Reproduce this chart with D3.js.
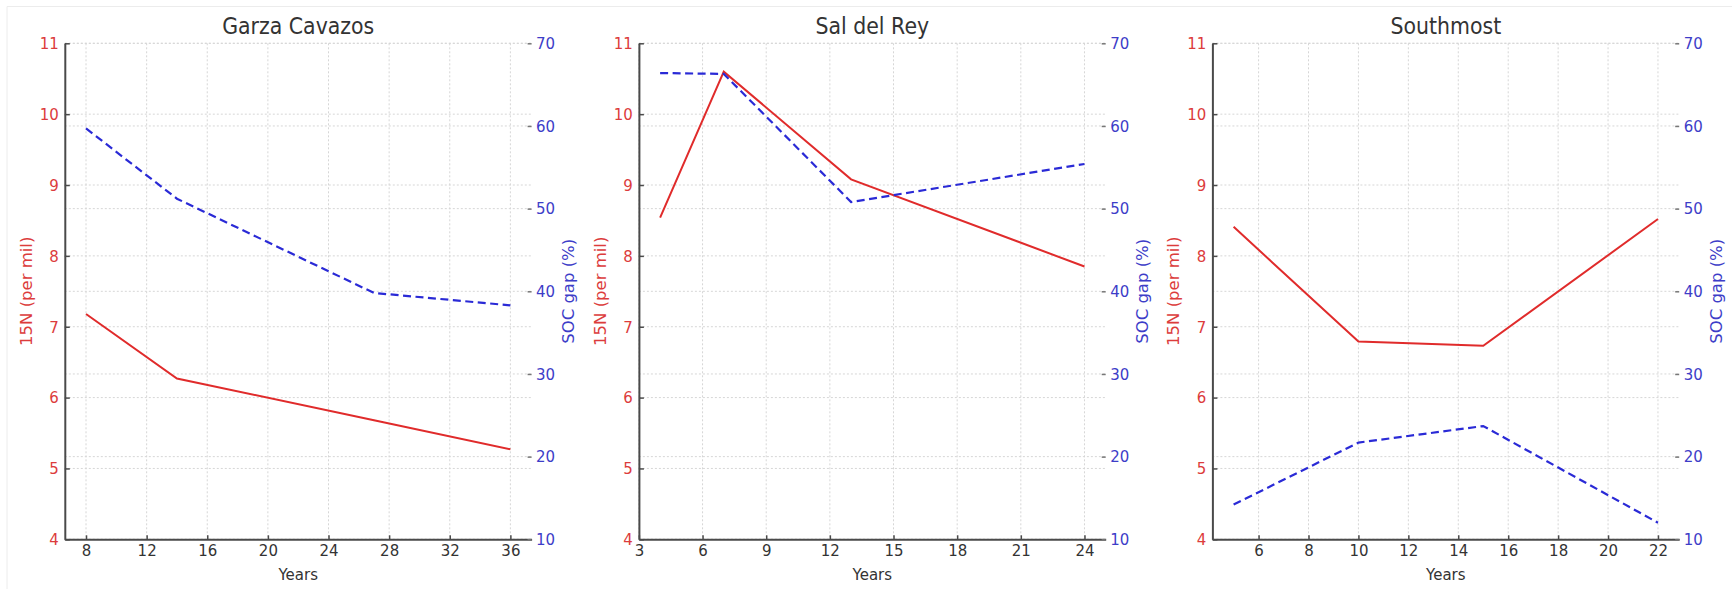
<!DOCTYPE html>
<html>
<head>
<meta charset="utf-8">
<script src="https://cdn.jsdelivr.net/npm/d3@7"></script>
<style>
  body { margin: 0; background: white; }
  svg text { font-family: "DejaVu Sans", sans-serif; }
</style>
</head>
<body>
<div id="chart"></div>
<script>
// values
const siteNames = ['Garza Cavazos', 'Sal del Rey', 'Southmost'];

const garzaYears = [8, 14, 27, 36];
const garzaN15 = [7.18, 6.27, 5.68, 5.27];
const garzaSoc = [59.7, 51.2, 39.8, 38.3];

const salYears = [4, 7, 13, 24];
const salN15 = [8.54, 10.6, 9.08, 7.85];
const salSoc = [66.4, 66.3, 50.8, 55.4];

const southYears = [5, 10, 15, 22];
const southN15 = [8.41, 6.79, 6.73, 8.52];
const southSoc = [14.2, 21.7, 23.7, 12.0];

const garzaTicks = [8, 12, 16, 20, 24, 28, 32, 36];
const salTicks = [3, 6, 9, 12, 15, 18, 21, 24];
const southTicks = [6, 8, 10, 12, 14, 16, 18, 20, 22];
const n15Ticks = [4, 5, 6, 7, 8, 9, 10, 11];
const socTicks = [10, 20, 30, 40, 50, 60, 70];

const width = 1732, height = 589;
const redLine = '#e02b2b', blueLine = '#2a2ad6';
const redText = '#dc3c3c', blueText = '#3d3dc8';
// the source picture is a little taller than wide, so text gets stretched too
const stretch = 1.1;

const svg = d3.select('#chart').append('svg')
    .attr('width', width)
    .attr('height', height);

svg.append('rect')
    .attr('width', width)
    .attr('height', height)
    .attr('fill', 'white');

// faint frame left over from the screenshot (top and left only)
svg.append('path')
    .attr('d', `M7,${height} V6.5 H${width}`)
    .attr('fill', 'none')
    .attr('stroke', '#ececec')
    .attr('stroke-width', 1);

const plotTop = 43.3, plotBottom = 539.3, plotW = 466.8;
const panelLeft = [64.8, 638.9, 1212.4];

const panels = [
    { years: garzaYears, n15: garzaN15, soc: garzaSoc, ticks: garzaTicks },
    { years: salYears, n15: salN15, soc: salSoc, ticks: salTicks },
    { years: southYears, n15: southN15, soc: southSoc, ticks: southTicks }
];

panels.forEach((p, i) => {
    const left = panelLeft[i];
    const right = left + plotW;

    // matplotlib style 5% margin on the x data range
    const [x0, x1] = d3.extent(p.years);
    const pad = (x1 - x0) * 0.05;
    const x = d3.scaleLinear().domain([x0 - pad, x1 + pad]).range([left, right]);
    const yL = d3.scaleLinear().domain([4, 11]).range([plotBottom, plotTop]);
    const yR = d3.scaleLinear().domain([10, 70]).range([plotBottom, plotTop]);

    const g = svg.append('g').classed('panel', true);

    // grid: vertical at x ticks, horizontal at both y axes' ticks
    const grid = g.append('g')
        .attr('stroke', '#d6d6d6')
        .attr('stroke-width', 1)
        .attr('stroke-dasharray', '2,2');
    grid.selectAll('line.vx')
        .data(p.ticks)
        .join('line')
        .classed('vx', true)
        .attr('x1', d => x(d)).attr('x2', d => x(d))
        .attr('y1', plotTop).attr('y2', plotBottom);
    grid.selectAll('line.hl')
        .data(n15Ticks)
        .join('line')
        .classed('hl', true)
        .attr('x1', left).attr('x2', right)
        .attr('y1', d => yL(d)).attr('y2', d => yL(d));
    grid.selectAll('line.hr')
        .data(socTicks)
        .join('line')
        .classed('hr', true)
        .attr('x1', left).attr('x2', right)
        .attr('y1', d => yR(d)).attr('y2', d => yR(d));

    // lines
    const idx = d3.range(p.years.length);
    g.append('path')
        .datum(idx)
        .attr('fill', 'none')
        .attr('stroke', redLine)
        .attr('stroke-width', 2)
        .attr('d', d3.line().x(k => x(p.years[k])).y(k => yL(p.n15[k])));
    g.append('path')
        .datum(idx)
        .attr('fill', 'none')
        .attr('stroke', blueLine)
        .attr('stroke-width', 2.2)
        .attr('stroke-dasharray', '8,4.5')
        .attr('d', d3.line().x(k => x(p.years[k])).y(k => yR(p.soc[k])));

    // axes, ticks point inwards
    const bottomAxis = g.append('g')
        .attr('transform', `translate(0,${plotBottom})`)
        .call(d3.axisBottom(x).tickValues(p.ticks).tickFormat(d3.format('d'))
            .tickSizeInner(-4).tickSizeOuter(0).tickPadding(4.5));
    const leftAxis = g.append('g')
        .attr('transform', `translate(${left},0)`)
        .call(d3.axisLeft(yL).tickValues(n15Ticks).tickFormat(d3.format('d'))
            .tickSizeInner(-5).tickSizeOuter(0).tickPadding(6));
    const rightAxis = g.append('g')
        .attr('transform', `translate(${right},0)`)
        .call(d3.axisRight(yR).tickValues(socTicks).tickFormat(d3.format('d'))
            .tickSizeInner(-4).tickSizeOuter(0).tickPadding(4.5));

    [bottomAxis, leftAxis].forEach(a => {
        a.select('.domain').attr('stroke', '#4a4a4a').attr('stroke-width', 2);
        a.selectAll('.tick line').attr('stroke', '#4a4a4a').attr('stroke-width', 1.5);
    });
    rightAxis.select('.domain').remove();
    rightAxis.selectAll('.tick line').attr('stroke', '#777').attr('stroke-width', 1.5);

    bottomAxis.selectAll('text').attr('font-size', 15).attr('fill', '#333');
    leftAxis.selectAll('text').attr('font-size', 15).attr('fill', redText);
    rightAxis.selectAll('text').attr('font-size', 15).attr('fill', blueText);
    [bottomAxis, leftAxis, rightAxis].forEach(a => {
        a.selectAll('text')
            .attr('font-family', '"DejaVu Sans", sans-serif')
            .attr('transform', `scale(1,${stretch})`);
    });

    // titles and axis labels
    const mid = (plotTop + plotBottom) / 2;
    const cx = (left + right) / 2;
    g.append('text')
        .attr('transform', `translate(${cx},34) scale(1,${stretch})`)
        .attr('text-anchor', 'middle')
        .attr('font-size', 20.5)
        .attr('fill', '#333')
        .text(siteNames[i]);
    g.append('text')
        .attr('transform', `translate(${cx},579.5) scale(1,${stretch})`)
        .attr('text-anchor', 'middle')
        .attr('font-size', 15)
        .attr('fill', '#333')
        .text('Years');
    g.append('text')
        .attr('transform', `translate(${left - 38.5},${mid}) scale(1,${stretch}) rotate(-90)`)
        .attr('text-anchor', 'middle')
        .attr('dominant-baseline', 'central')
        .attr('font-size', 15)
        .attr('fill', redText)
        .text('15N (per mil)');
    g.append('text')
        .attr('transform', `translate(${right + 37.5},${mid}) scale(1,${stretch}) rotate(-90)`)
        .attr('text-anchor', 'middle')
        .attr('dominant-baseline', 'central')
        .attr('font-size', 15)
        .attr('fill', blueText)
        .text('SOC gap (%)');
});
</script>
</body>
</html>
